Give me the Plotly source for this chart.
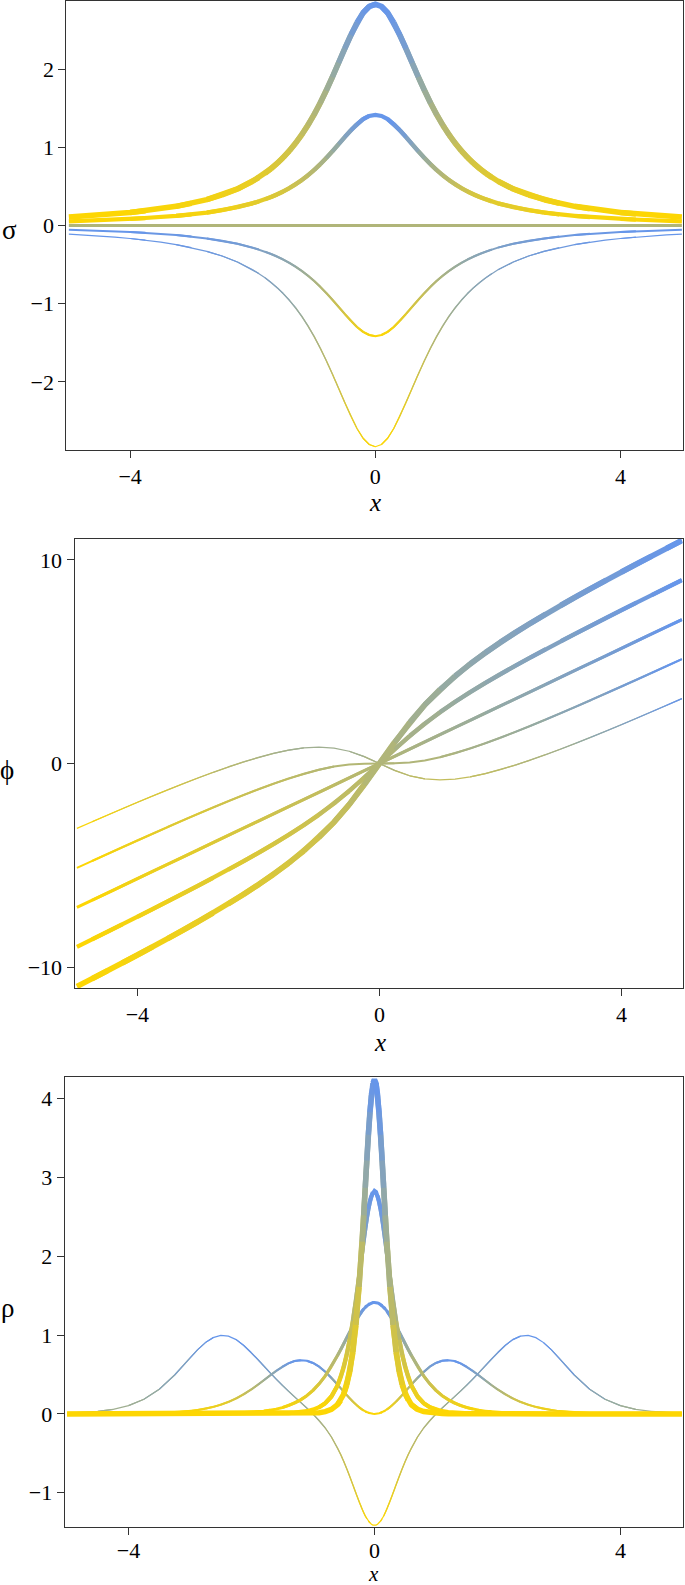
import plotly.graph_objects as go

# ---- sigma panel -------------------------------------------------------
sigma_x = [-5, -4.75, -4.5, -4.25, -4, -3.75, -3.5, -3.25, -3, -2.75, -2.5, -2.25,
           -2, -1.9, -1.8, -1.7, -1.6, -1.5, -1.4, -1.3, -1.2, -1.1, -1, -0.9, -0.8, -0.7,
           -0.6, -0.5, -0.4, -0.3, -0.2, -0.1, 0, 0.1, 0.2, 0.3, 0.4, 0.5, 0.6, 0.7, 0.8,
           0.9, 1, 1.1, 1.2, 1.3, 1.4, 1.5, 1.6, 1.7, 1.8, 1.9, 2,
           2.25, 2.5, 2.75, 3, 3.25, 3.5, 3.75, 4, 4.25, 4.5, 4.75, 5]
sigma_p2 = [0.109, 0.120, 0.133, 0.148, 0.166, 0.188, 0.213, 0.245, 0.283, 0.330, 0.390, 0.467,
            0.566, 0.614, 0.667, 0.727, 0.795, 0.870, 0.956, 1.051, 1.159, 1.280, 1.414, 1.563,
            1.725, 1.898, 2.080, 2.263, 2.438, 2.595, 2.720, 2.800, 2.828, 2.800, 2.720, 2.595,
            2.438, 2.263, 2.080, 1.898, 1.725, 1.563, 1.414, 1.280, 1.159, 1.051, 0.956, 0.870,
            0.795, 0.727, 0.667, 0.614, 0.566,
            0.467, 0.390, 0.330, 0.283, 0.245, 0.213, 0.188, 0.166, 0.148, 0.133, 0.120, 0.109]
sigma_p1 = [0.054, 0.060, 0.067, 0.074, 0.083, 0.094, 0.107, 0.122, 0.141, 0.165, 0.195, 0.233,
            0.283, 0.307, 0.334, 0.364, 0.397, 0.435, 0.478, 0.526, 0.580, 0.640, 0.707, 0.781,
            0.862, 0.949, 1.040, 1.131, 1.219, 1.297, 1.360, 1.400, 1.414, 1.400, 1.360, 1.297,
            1.219, 1.131, 1.040, 0.949, 0.862, 0.781, 0.707, 0.640, 0.580, 0.526, 0.478, 0.435,
            0.397, 0.364, 0.334, 0.307, 0.283,
            0.233, 0.195, 0.165, 0.141, 0.122, 0.107, 0.094, 0.083, 0.074, 0.067, 0.060, 0.054]
sigma_0x = [-5, 5]
sigma_0 = [0, 0]
sigma_m1 = [-0.054, -0.060, -0.067, -0.074, -0.083, -0.094, -0.107, -0.122, -0.141, -0.165, -0.195, -0.233,
            -0.283, -0.307, -0.334, -0.364, -0.397, -0.435, -0.478, -0.526, -0.580, -0.640, -0.707, -0.781,
            -0.862, -0.949, -1.040, -1.131, -1.219, -1.297, -1.360, -1.400, -1.414, -1.400, -1.360, -1.297,
            -1.219, -1.131, -1.040, -0.949, -0.862, -0.781, -0.707, -0.640, -0.580, -0.526, -0.478, -0.435,
            -0.397, -0.364, -0.334, -0.307, -0.283,
            -0.233, -0.195, -0.165, -0.141, -0.122, -0.107, -0.094, -0.083, -0.074, -0.067, -0.060, -0.054]
sigma_m2 = [-0.109, -0.120, -0.133, -0.148, -0.166, -0.188, -0.213, -0.245, -0.283, -0.330, -0.390, -0.467,
            -0.566, -0.614, -0.667, -0.727, -0.795, -0.870, -0.956, -1.051, -1.159, -1.280, -1.414, -1.563,
            -1.725, -1.898, -2.080, -2.263, -2.438, -2.595, -2.720, -2.800, -2.828, -2.800, -2.720, -2.595,
            -2.438, -2.263, -2.080, -1.898, -1.725, -1.563, -1.414, -1.280, -1.159, -1.051, -0.956, -0.870,
            -0.795, -0.727, -0.667, -0.614, -0.566,
            -0.467, -0.390, -0.330, -0.283, -0.245, -0.213, -0.188, -0.166, -0.148, -0.133, -0.120, -0.109]

# ---- phi panel ---------------------------------------------------------
phi_x = [-5, -4.75, -4.5, -4.25, -4, -3.75, -3.5, -3.25, -3, -2.75, -2.5, -2.25, -2, -1.75,
         -1.5, -1.25, -1, -0.75, -0.5, -0.25, 0, 0.25, 0.5, 0.75, 1, 1.25, 1.5, 1.75, 2,
         2.25, 2.5, 2.75, 3, 3.25, 3.5, 3.75, 4, 4.25, 4.5, 4.75, 5]
phi_p2 = [-10.956, -10.574, -10.188, -9.800, -9.407, -9.009, -8.605, -8.195, -7.775, -7.345,
          -6.902, -6.442, -5.960, -5.449, -4.901, -4.302, -3.636, -2.881, -2.019, -1.046, 0,
          1.046, 2.019, 2.881, 3.636, 4.302, 4.901, 5.449, 5.960, 6.442, 6.902, 7.345, 7.775,
          8.195, 8.605, 9.009, 9.407, 9.800, 10.188, 10.574, 10.956]
phi_p1 = [-9.013, -8.646, -8.276, -7.905, -7.532, -7.156, -6.778, -6.395, -6.009, -5.617,
          -5.219, -4.812, -4.394, -3.962, -3.511, -3.035, -2.525, -1.971, -1.363, -0.700, 0,
          0.700, 1.363, 1.971, 2.525, 3.035, 3.511, 3.962, 4.394, 4.812, 5.219, 5.617, 6.009,
          6.395, 6.778, 7.156, 7.532, 7.905, 8.276, 8.646, 9.013]
phi_0 = [-7.071, -6.718, -6.364, -6.010, -5.657, -5.303, -4.950, -4.596, -4.243, -3.889,
         -3.536, -3.182, -2.828, -2.475, -2.121, -1.768, -1.414, -1.061, -0.707, -0.354, 0,
         0.354, 0.707, 1.061, 1.414, 1.768, 2.121, 2.475, 2.828, 3.182, 3.536, 3.889, 4.243,
         4.596, 4.950, 5.303, 5.657, 6.010, 6.364, 6.718, 7.071]
phi_m1 = [-5.129, -4.790, -4.452, -4.116, -3.782, -3.450, -3.122, -2.797, -2.476, -2.161,
          -1.852, -1.552, -1.263, -0.988, -0.731, -0.501, -0.303, -0.151, -0.051, -0.007, 0,
          0.007, 0.051, 0.151, 0.303, 0.501, 0.731, 0.988, 1.263, 1.552, 1.852, 2.161, 2.476,
          2.797, 3.122, 3.450, 3.782, 4.116, 4.452, 4.790, 5.129]
phi_m2 = [-3.187, -2.862, -2.540, -2.221, -1.907, -1.598, -1.294, -0.998, -0.710, -0.433,
          -0.169, 0.078, 0.303, 0.500, 0.658, 0.767, 0.807, 0.759, 0.604, 0.339, 0,
          -0.339, -0.604, -0.759, -0.807, -0.767, -0.658, -0.500, -0.303, -0.078, 0.169, 0.433,
          0.710, 0.998, 1.294, 1.598, 1.907, 2.221, 2.540, 2.862, 3.187]

# ---- rho panel ---------------------------------------------------------
rho_x = [-5, -4.75, -4.5, -4.25, -4, -3.75, -3.5, -3.25, -3, -2.875, -2.75, -2.625, -2.5, -2.375, -2.25, -2.125,
         -2, -1.9, -1.8, -1.7, -1.6, -1.5, -1.4, -1.3, -1.2, -1.1, -1, -0.9, -0.8, -0.7, -0.6,
         -0.55, -0.5, -0.45, -0.4, -0.35, -0.3, -0.25, -0.2, -0.175, -0.15, -0.125, -0.1, -0.075, -0.05, -0.025,
         0,
         0.025, 0.05, 0.075, 0.1, 0.125, 0.15, 0.175, 0.2, 0.25, 0.3, 0.35, 0.4, 0.45, 0.5, 0.55,
         0.6, 0.7, 0.8, 0.9, 1, 1.1, 1.2, 1.3, 1.4, 1.5, 1.6, 1.7, 1.8, 1.9, 2,
         2.125, 2.25, 2.375, 2.5, 2.625, 2.75, 2.875, 3, 3.25, 3.5, 3.75, 4, 4.25, 4.5, 4.75, 5]
rho_p2 = [0, 0, 0, 0, 0, 0, 0, 0, 0, 0, 0, 0, 0, 0, 0, 0,
          0, 0, 0, 0, 0, 0.001, 0.001, 0.001, 0.002, 0.004, 0.008, 0.015, 0.029, 0.057, 0.118,
          0.172, 0.251, 0.367, 0.537, 0.782, 1.127, 1.611, 2.186, 2.520, 2.869, 3.214, 3.541, 3.827, 4.051, 4.194,
          4.243,
          4.194, 4.051, 3.827, 3.541, 3.214, 2.869, 2.520, 2.186, 1.611, 1.127, 0.782, 0.537, 0.367, 0.251, 0.172,
          0.118, 0.057, 0.029, 0.015, 0.008, 0.004, 0.002, 0.001, 0.001, 0.001, 0, 0, 0, 0, 0,
          0, 0, 0, 0, 0, 0, 0, 0, 0, 0, 0, 0, 0, 0, 0, 0]
rho_p1 = [0, 0, 0, 0, 0, 0, 0, 0, 0, 0, 0, 0, 0, 0, 0, 0.001,
          0.001, 0.001, 0.002, 0.003, 0.004, 0.007, 0.010, 0.015, 0.022, 0.034, 0.054, 0.085, 0.136, 0.221, 0.361,
          0.461, 0.588, 0.746, 0.940, 1.173, 1.443, 1.742, 2.054, 2.207, 2.352, 2.485, 2.601, 2.698, 2.769, 2.813,
          2.828,
          2.813, 2.769, 2.698, 2.601, 2.485, 2.352, 2.207, 2.054, 1.742, 1.443, 1.173, 0.940, 0.746, 0.588, 0.461,
          0.361, 0.221, 0.136, 0.085, 0.054, 0.034, 0.022, 0.015, 0.010, 0.007, 0.004, 0.003, 0.002, 0.001, 0.001,
          0.001, 0, 0, 0, 0, 0, 0, 0, 0, 0, 0, 0, 0, 0, 0, 0]
rho_0 = [0, 0, 0, 0, 0, 0, 0, 0.001, 0.001, 0.002, 0.002, 0.003, 0.005, 0.007, 0.010, 0.014,
         0.020, 0.026, 0.034, 0.045, 0.060, 0.079, 0.104, 0.136, 0.178, 0.231, 0.298, 0.381, 0.483, 0.603, 0.740,
         0.814, 0.890, 0.967, 1.043, 1.117, 1.187, 1.251, 1.307, 1.331, 1.352, 1.371, 1.386, 1.398, 1.407, 1.412,
         1.414,
         1.412, 1.407, 1.398, 1.386, 1.371, 1.352, 1.331, 1.307, 1.251, 1.187, 1.117, 1.043, 0.967, 0.890, 0.814,
         0.740, 0.603, 0.483, 0.381, 0.298, 0.231, 0.178, 0.136, 0.104, 0.079, 0.060, 0.045, 0.034, 0.026, 0.020,
         0.014, 0.010, 0.007, 0.005, 0.003, 0.002, 0.002, 0.001, 0.001, 0, 0, 0, 0, 0, 0, 0]
rho_m1 = [0, 0, 0.001, 0.001, 0.003, 0.005, 0.010, 0.019, 0.035, 0.048, 0.065, 0.086, 0.114, 0.150, 0.194, 0.248,
          0.310, 0.366, 0.426, 0.487, 0.545, 0.598, 0.641, 0.670, 0.681, 0.674, 0.646, 0.599, 0.535, 0.458, 0.372,
          0.327, 0.282, 0.238, 0.195, 0.154, 0.117, 0.083, 0.054, 0.042, 0.030, 0.022, 0.014, 0.008, 0.004, 0.001,
          0,
          0.001, 0.004, 0.008, 0.014, 0.022, 0.030, 0.042, 0.054, 0.083, 0.117, 0.154, 0.195, 0.238, 0.282, 0.327,
          0.372, 0.458, 0.535, 0.599, 0.646, 0.674, 0.681, 0.670, 0.641, 0.598, 0.545, 0.487, 0.426, 0.366, 0.310,
          0.248, 0.194, 0.150, 0.114, 0.086, 0.065, 0.048, 0.035, 0.019, 0.010, 0.005, 0.003, 0.001, 0.001, 0, 0]
rho_m2 = [0.009, 0.017, 0.032, 0.058, 0.105, 0.185, 0.312, 0.493, 0.710, 0.815, 0.904, 0.967, 0.995, 0.986, 0.942, 0.868,
          0.775, 0.693, 0.607, 0.523, 0.441, 0.363, 0.288, 0.216, 0.146, 0.075, 0, -0.083, -0.179, -0.293, -0.433,
          -0.513, -0.601, -0.696, -0.798, -0.903, -1.010, -1.114, -1.211, -1.255, -1.296, -1.330, -1.359, -1.383,
          -1.400, -1.411,
          -1.414,
          -1.411, -1.400, -1.383, -1.359, -1.330, -1.296, -1.255, -1.211, -1.114, -1.010, -0.903, -0.798, -0.696,
          -0.601, -0.513,
          -0.433, -0.293, -0.179, -0.083, 0, 0.075, 0.146, 0.216, 0.288, 0.363, 0.441, 0.523, 0.607, 0.693, 0.775,
          0.868, 0.942, 0.986, 0.995, 0.967, 0.904, 0.815, 0.710, 0.493, 0.312, 0.185, 0.105, 0.058, 0.032, 0.017, 0.009]

GOLD = (255, 215, 0)
BLUE = (100, 149, 237)
NBINS = 40
W, H = 685, 1585
SERIF = "Liberation Serif, Times New Roman, DejaVu Serif, serif"


def shade(f):
    r, g, b = (round(GOLD[k] + (BLUE[k] - GOLD[k]) * f) for k in range(3))
    return f"rgb({r},{g},{b})"


def add_curve(fig, xs, ys, width, xa, ya):
    # colour each segment by its height inside this curve (gold low -> blue high)
    lo, hi = min(ys), max(ys)
    bins = []
    for i in range(len(xs) - 1):
        f = 0.5 if hi == lo else ((ys[i] + ys[i + 1]) / 2 - lo) / (hi - lo)
        bins.append(min(NBINS - 1, int(f * NBINS)))
    runs = {}
    i = 0
    while i < len(bins):
        j = i
        while j + 1 < len(bins) and bins[j + 1] == bins[i]:
            j += 1
        end = min(j + 2, len(xs) - 1)
        bx, by = runs.setdefault(bins[i], ([], []))
        bx.extend(list(xs[i:end + 1]) + [None])
        by.extend(list(ys[i:end + 1]) + [None])
        i = j + 1
    for k in sorted(runs):
        bx, by = runs[k]
        fig.add_trace(go.Scatter(x=bx, y=by, mode="lines", xaxis=xa, yaxis=ya,
                                 line=dict(color=shade((k + 0.5) / NBINS), width=width),
                                 showlegend=False, hoverinfo="skip"))


fig = go.Figure()
widths = [1.2, 2, 3, 4.2, 5.5]

panels = [
    ("x", "y", [(sigma_x, sigma_m2), (sigma_x, sigma_m1), (sigma_0x, sigma_0),
                (sigma_x, sigma_p1), (sigma_x, sigma_p2)]),
    ("x2", "y2", [(phi_x, phi_m2), (phi_x, phi_m1), (phi_x, phi_0),
                  (phi_x, phi_p1), (phi_x, phi_p2)]),
    ("x3", "y3", [(rho_x, rho_m2), (rho_x, rho_m1), (rho_x, rho_0),
                  (rho_x, rho_p1), (rho_x, rho_p2)]),
]
for xa, ya, curves in panels:
    for (cx, cy), w in zip(curves, widths):
        add_curve(fig, cx, cy, w, xa, ya)

axis = dict(showline=True, linecolor="#333333", linewidth=1, mirror=True,
            ticks="outside", ticklen=7, tickwidth=1, tickcolor="#333333",
            showgrid=False, zeroline=False,
            tickfont=dict(family=SERIF, size=22, color="black"))


def px_dom(a, b, total, flip=False):
    if flip:
        return [1 - b / total, 1 - a / total]
    return [a / total, b / total]


xr = [-5.04, 5.01]
fig.update_layout(
    width=W, height=H, margin=dict(l=0, r=0, t=0, b=0),
    plot_bgcolor="white", paper_bgcolor="white", showlegend=False,
    xaxis=dict(domain=px_dom(66.4, 682.5, W), range=xr, tickvals=[-4, 0, 4], anchor="y", **axis),
    yaxis=dict(domain=px_dom(1, 450, H, True), range=[-2.87, 2.87],
               tickvals=[-2, -1, 0, 1, 2], anchor="x", **axis),
    xaxis2=dict(domain=px_dom(74.5, 682.5, W), range=xr, tickvals=[-4, 0, 4], anchor="y2", **axis),
    yaxis2=dict(domain=px_dom(539, 988, H, True), range=[-11.03, 11.03],
                tickvals=[-10, 0, 10], anchor="x2", **axis),
    xaxis3=dict(domain=px_dom(64.6, 682.5, W), range=xr, tickvals=[-4, 0, 4], anchor="y3",
                ticklabelstandoff=-3, **axis),
    yaxis3=dict(domain=px_dom(1076.5, 1526.6, H, True), range=[-1.43, 4.28],
                tickvals=[-1, 0, 1, 2, 3, 4], anchor="x3", **axis),
)

labels = [("σ", 9, 230, 27, False), ("ϕ", 7, 770, 27, False), ("ρ", 7, 1308, 27, False),
          ("x", 375, 503, 25, True), ("x", 380, 1042, 25, True), ("x", 374, 1574, 21, True)]
for txt, lx, ly, fs, ital in labels:
    fig.add_annotation(text=f"<i>{txt}</i>" if ital else txt, x=lx / W, y=1 - ly / H,
                       xref="paper", yref="paper", xanchor="center", yanchor="middle",
                       showarrow=False, font=dict(family=SERIF, size=fs, color="black"))

fig.write_html("out.html", config={"displayModeBar": False},
               post_script="document.body.style.margin='0px';")
